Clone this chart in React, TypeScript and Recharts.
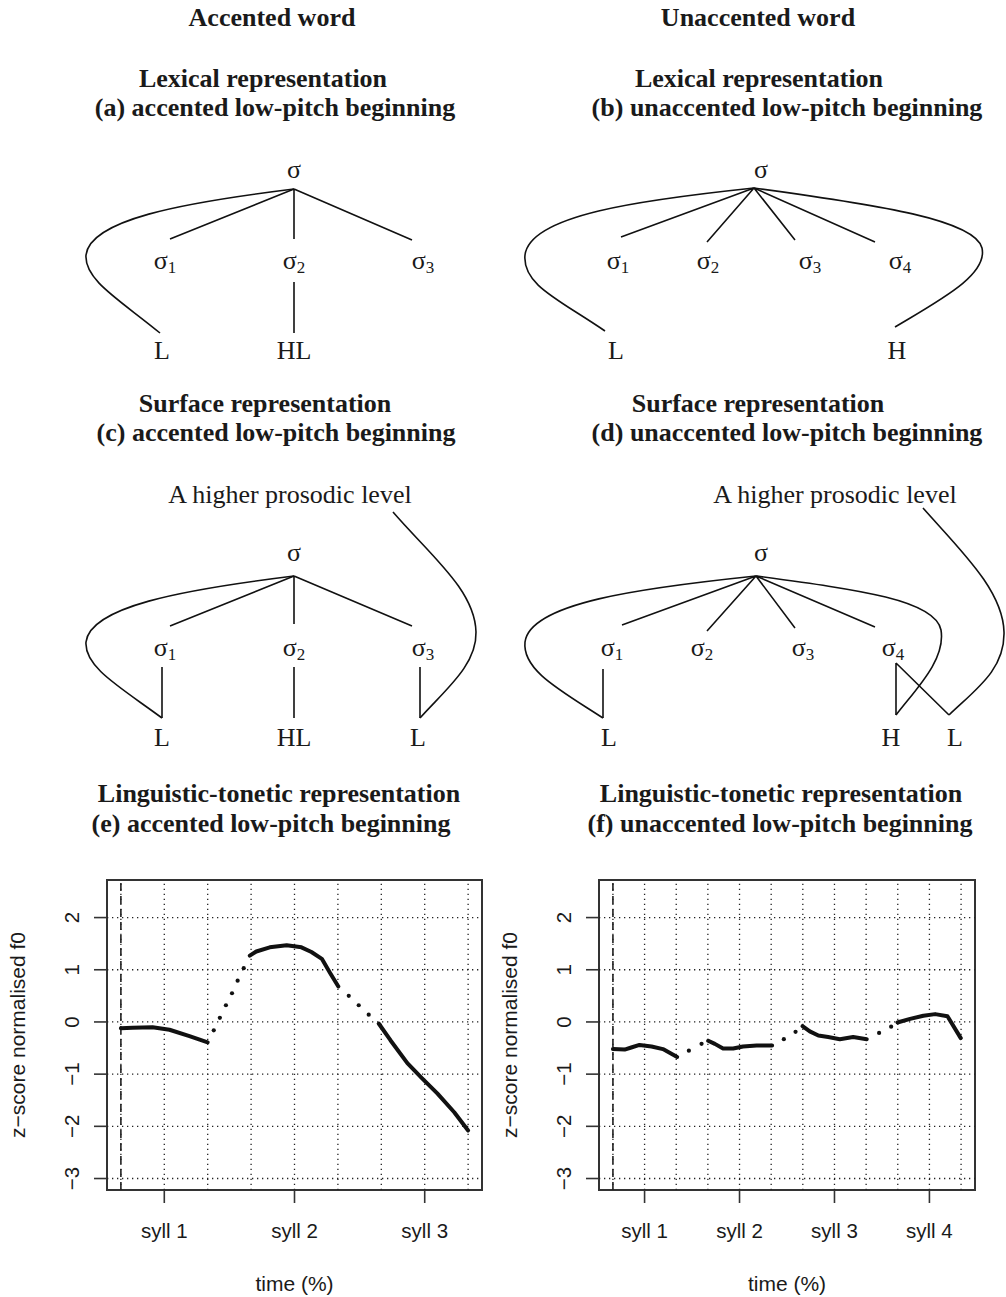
import React from 'react';
import { LineChart, Line, XAxis, YAxis, ReferenceLine, ReferenceArea, Label } from 'recharts';

const SERIF = '"Liberation Serif", "Times New Roman", Times, serif';
const SANS = '"Liberation Sans", Arial, Helvetica, sans-serif';
const INK = '#1a1a1a';

// ---------- data: (e) accented word ----------
const accSolid1 = [
  { x: 0, y: -0.12 }, { x: 0.27, y: -0.11 }, { x: 0.73, y: -0.1 }, { x: 1.12, y: -0.15 },
  { x: 1.58, y: -0.27 }, { x: 2.0, y: -0.39 },
];
const accDots1 = [
  { x: 2.14, y: -0.16 }, { x: 2.28, y: 0.08 }, { x: 2.42, y: 0.32 }, { x: 2.56, y: 0.55 },
  { x: 2.69, y: 0.79 }, { x: 2.83, y: 1.03 },
];
const accSolid2 = [
  { x: 2.97, y: 1.27 }, { x: 3.12, y: 1.35 }, { x: 3.43, y: 1.43 }, { x: 3.82, y: 1.47 },
  { x: 4.16, y: 1.43 }, { x: 4.39, y: 1.34 }, { x: 4.63, y: 1.21 }, { x: 4.82, y: 0.94 },
  { x: 5.01, y: 0.68 },
];
const accDots2 = [{ x: 5.25, y: 0.5 }, { x: 5.48, y: 0.32 }, { x: 5.71, y: 0.14 }];
const accSolid3 = [
  { x: 5.94, y: -0.03 }, { x: 6.21, y: -0.35 }, { x: 6.6, y: -0.79 }, { x: 6.94, y: -1.08 },
  { x: 7.29, y: -1.37 }, { x: 7.68, y: -1.73 }, { x: 8.0, y: -2.08 },
];

// ---------- data: (f) unaccented word ----------
const unaccSolid1 = [
  { x: 0, y: -0.52 }, { x: 0.37, y: -0.53 }, { x: 0.58, y: -0.49 }, { x: 0.84, y: -0.44 },
  { x: 1.22, y: -0.47 }, { x: 1.58, y: -0.52 }, { x: 2.03, y: -0.67 },
];
const unaccDots1 = [{ x: 2.4, y: -0.55 }, { x: 2.8, y: -0.42 }];
const unaccSolid2 = [
  { x: 3.01, y: -0.36 }, { x: 3.22, y: -0.42 }, { x: 3.48, y: -0.51 }, { x: 3.8, y: -0.51 },
  { x: 4.11, y: -0.47 }, { x: 4.54, y: -0.45 }, { x: 5.03, y: -0.45 },
];
const unaccDots2 = [{ x: 5.4, y: -0.33 }, { x: 5.77, y: -0.19 }];
const unaccSolid3 = [
  { x: 5.99, y: -0.08 }, { x: 6.22, y: -0.18 }, { x: 6.49, y: -0.26 }, { x: 6.8, y: -0.29 },
  { x: 7.17, y: -0.33 }, { x: 7.59, y: -0.29 }, { x: 8.02, y: -0.33 },
];
const unaccDots3 = [{ x: 8.41, y: -0.21 }, { x: 8.79, y: -0.09 }];
const unaccSolid4 = [
  { x: 8.99, y: -0.01 }, { x: 9.39, y: 0.06 }, { x: 9.81, y: 0.12 }, { x: 10.18, y: 0.15 },
  { x: 10.57, y: 0.11 }, { x: 10.99, y: -0.31 },
];

// ---------- axes ----------
const yTicks = [-3, -2, -1, 0, 1, 2];
const yDomain: [number, number] = [-3.22, 2.72];
const accXDomain: [number, number] = [-0.32, 8.32];
const unaccXDomain: [number, number] = [-0.44, 11.44];
const accGridX = [0, 1, 2, 3, 4, 5, 6, 7, 8];
const unaccGridX = [0, 1, 2, 3, 4, 5, 6, 7, 8, 9, 10, 11];
const accTicks = [1, 4, 7];
const accTickLabels = ['syll 1', 'syll 2', 'syll 3'];
const unaccTicks = [1, 4, 7, 10];
const unaccTickLabels = ['syll 1', 'syll 2', 'syll 3', 'syll 4'];
const xTitle = 'time (%)';
const yTitle = 'z\u2212score normalised f0';

const fmtY = (v: number) => (v < 0 ? '\u2212' + Math.abs(v) : String(v));

type Pt = { x: number; y: number };

function F0Panel(props: {
  left: number;
  width: number;
  marginLeft: number;
  marginRight: number;
  solids: Pt[][];
  dots: Pt[][];
  xDomain: [number, number];
  gridX: number[];
  ticks: number[];
  tickLabels: string[];
}) {
  const W = props.width;
  const H = 447;
  const YW = 50;
  const XH = 60;
  const margin = { top: 30, right: props.marginRight, bottom: 47, left: props.marginLeft };
  const plotLeft = margin.left + YW;
  const plotRight = W - margin.right;
  const plotTop = margin.top;
  const plotBottom = H - margin.bottom - XH;

  const xTick = (p: any) => {
    const i = props.ticks.indexOf(p.payload.value);
    return (
      <text x={p.x} y={plotBottom + 40} textAnchor="middle" dominantBaseline="central"
        fontFamily={SANS} fontSize={20.5} fill={INK}>
        {props.tickLabels[i]}
      </text>
    );
  };
  const yTick = (p: any) => {
    const x = plotLeft - 35;
    return (
      <text x={x} y={p.y} transform={`rotate(-90 ${x} ${p.y})`} textAnchor="middle"
        dominantBaseline="central" fontFamily={SANS} fontSize={20.5} fill={INK}>
        {fmtY(p.payload.value)}
      </text>
    );
  };
  const xTitleContent = () => (
    <text x={(plotLeft + plotRight) / 2} y={plotBottom + 93} textAnchor="middle"
      dominantBaseline="central" fontFamily={SANS} fontSize={21} fill={INK}>
      {xTitle}
    </text>
  );
  const yTitleContent = () => {
    const x = plotLeft - 90;
    const y = (plotTop + plotBottom) / 2;
    return (
      <text x={x} y={y} transform={`rotate(-90 ${x} ${y})`} textAnchor="middle"
        dominantBaseline="central" fontFamily={SANS} fontSize={21} fill={INK}>
        {yTitle}
      </text>
    );
  };

  return (
    <div style={{ position: 'absolute', left: props.left, top: 850, width: W, height: H }}>
      <LineChart width={W} height={H} margin={margin}>
        <XAxis dataKey="x" type="number" domain={props.xDomain} allowDataOverflow ticks={props.ticks}
          interval={0} tickSize={13} height={XH} axisLine={false}
          tickLine={{ stroke: '#333', strokeWidth: 1.6 }} tick={xTick}>
          <Label content={xTitleContent} />
        </XAxis>
        <YAxis type="number" domain={yDomain} allowDataOverflow ticks={yTicks} interval={0}
          tickSize={13} width={YW} axisLine={false}
          tickLine={{ stroke: '#333', strokeWidth: 1.6 }} tick={yTick}>
          <Label content={yTitleContent} />
        </YAxis>
        {yTicks.map((v) => (
          <ReferenceLine key={'gy' + v} y={v} stroke="#222" strokeWidth={1.3} strokeDasharray="1.3 3.7" />
        ))}
        {props.gridX.map((v) => (
          <ReferenceLine key={'gx' + v} x={v} stroke="#222" strokeWidth={1.3} strokeDasharray="1.3 3.7" />
        ))}
        <ReferenceLine x={0} stroke="#222" strokeWidth={1.6} strokeDasharray="8 5" />
        <ReferenceArea x1={props.xDomain[0]} x2={props.xDomain[1]} y1={yDomain[0]} y2={yDomain[1]}
          fill="none" fillOpacity={0} stroke="#333" strokeWidth={2} ifOverflow="visible" />
        {props.solids.map((seg, i) => (
          <Line key={'s' + i} data={seg} dataKey="y" type="linear" stroke="#111" strokeWidth={4}
            strokeLinecap="round" strokeLinejoin="round" dot={false} activeDot={false}
            isAnimationActive={false} legendType="none" />
        ))}
        {props.dots.map((seg, i) => (
          <Line key={'d' + i} data={seg} dataKey="y" type="linear" stroke="none"
            dot={{ r: 2.1, fill: '#111', stroke: 'none' }} activeDot={false}
            isAnimationActive={false} legendType="none" />
        ))}
      </LineChart>
    </div>
  );
}

// ---------- tree diagrams (top part) ----------
const T = (p: { x: number; y: number; s: string; bold?: boolean; size?: number }) => (
  <text x={p.x} y={p.y} textAnchor="middle" fontFamily={SERIF} fontSize={p.size ?? 26}
    fontWeight={p.bold ? 'bold' : 'normal'} fill={INK}>
    {p.s}
  </text>
);
const Sig = (p: { x: number; y: number; n: string }) => (
  <text x={p.x} y={p.y} textAnchor="middle" fontFamily={SERIF} fontSize={26} fill={INK}>
    σ<tspan fontSize={17} dy={4}>{p.n}</tspan>
  </text>
);
const P = (p: { d: string }) => (
  <path d={p.d} fill="none" stroke="#111" strokeWidth={1.6} strokeLinejoin="round" />
);

function Trees() {
  return (
    <svg width={1006} height={850} style={{ position: 'absolute', left: 0, top: 0 }}>
      {/* headings */}
      <T x={272} y={26} s="Accented word" bold />
      <T x={758} y={26} s="Unaccented word" bold />
      <T x={263} y={87} s="Lexical representation" bold />
      <T x={275} y={116} s="(a) accented low-pitch beginning" bold />
      <T x={759} y={87} s="Lexical representation" bold />
      <T x={787} y={116} s="(b) unaccented low-pitch beginning" bold />
      <T x={265} y={412} s="Surface representation" bold />
      <T x={276} y={441} s="(c) accented low-pitch beginning" bold />
      <T x={758} y={412} s="Surface representation" bold />
      <T x={787} y={441} s="(d) unaccented low-pitch beginning" bold />
      <T x={279} y={802} s="Linguistic-tonetic representation" bold />
      <T x={271} y={832} s="(e) accented low-pitch beginning" bold />
      <T x={781} y={802} s="Linguistic-tonetic representation" bold />
      <T x={780} y={832} s="(f) unaccented low-pitch beginning" bold />

      {/* (a) */}
      <T x={294} y={178} s="σ" />
      <P d="M294,189 L170,239 M294,189 L294,239 M294,189 L412,240 M294,282 L294,333" />
      <P d="M294,189 C180,203 90,220 86,255 C84,280 120,300 160,333" />
      <Sig x={165} y={269} n="1" />
      <Sig x={294} y={269} n="2" />
      <Sig x={423} y={269} n="3" />
      <T x={162} y={359} s="L" />
      <T x={294} y={359} s="HL" />

      {/* (b) */}
      <T x={761} y={178} s="σ" />
      <P d="M754,188 L621,237 M754,188 L707,242 M754,188 L795,240 M754,188 L875,242" />
      <P d="M754,188 C640,200 530,215 525,255 C522,285 560,300 605,331" />
      <P d="M754,188 C880,205 975,220 982,248 C988,275 940,300 895,327" />
      <Sig x={618} y={269} n="1" />
      <Sig x={708} y={269} n="2" />
      <Sig x={810} y={269} n="3" />
      <Sig x={900} y={269} n="4" />
      <T x={616} y={359} s="L" />
      <T x={897} y={359} s="H" />

      {/* (c) */}
      <T x={290} y={503} s="A higher prosodic level" />
      <T x={294} y={561} s="σ" />
      <P d="M294,576 L170,626 M294,576 L294,624 M294,576 L412,626" />
      <P d="M162,667 L162,718 M294,667 L294,718 M420,667 L420,718" />
      <P d="M294,576 C180,590 90,607 86,642 C84,667 120,687 162,718" />
      <P d="M393,512 C430,555 475,590 476,632 C477,665 445,690 420,718" />
      <Sig x={165} y={656} n="1" />
      <Sig x={294} y={656} n="2" />
      <Sig x={423} y={656} n="3" />
      <T x={162} y={746} s="L" />
      <T x={294} y={746} s="HL" />
      <T x={418} y={746} s="L" />

      {/* (d) */}
      <T x={835} y={503} s="A higher prosodic level" />
      <T x={761} y={561} s="σ" />
      <P d="M756,576 L622,625 M756,576 L707,631 M756,576 L795,628 M756,576 L875,627" />
      <P d="M603,669 L603,718" />
      <P d="M756,576 C640,588 530,603 525,642 C522,670 560,690 603,718" />
      <P d="M896,663 L896,715 M896,663 L949,715" />
      <P d="M756,576 C860,590 935,600 941,630 C946,660 915,690 896,715" />
      <P d="M923,508 C960,550 1003,590 1004,632 C1005,670 975,690 949,715" />
      <Sig x={612} y={656} n="1" />
      <Sig x={702} y={656} n="2" />
      <Sig x={803} y={656} n="3" />
      <Sig x={893} y={656} n="4" />
      <T x={609} y={746} s="L" />
      <T x={891} y={746} s="H" />
      <T x={955} y={746} s="L" />
    </svg>
  );
}

export default function App() {
  return (
    <div style={{ position: 'absolute', left: 0, top: 0, width: 1006, height: 1297, background: '#fff', overflow: 'hidden' }}>
      <Trees />
      <F0Panel left={0} width={493} marginLeft={57} marginRight={11}
        solids={[accSolid1, accSolid2, accSolid3]} dots={[accDots1, accDots2]}
        xDomain={accXDomain} gridX={accGridX} ticks={accTicks} tickLabels={accTickLabels} />
      <F0Panel left={493} width={513} marginLeft={56} marginRight={31}
        solids={[unaccSolid1, unaccSolid2, unaccSolid3, unaccSolid4]}
        dots={[unaccDots1, unaccDots2, unaccDots3]}
        xDomain={unaccXDomain} gridX={unaccGridX} ticks={unaccTicks} tickLabels={unaccTickLabels} />
    </div>
  );
}
